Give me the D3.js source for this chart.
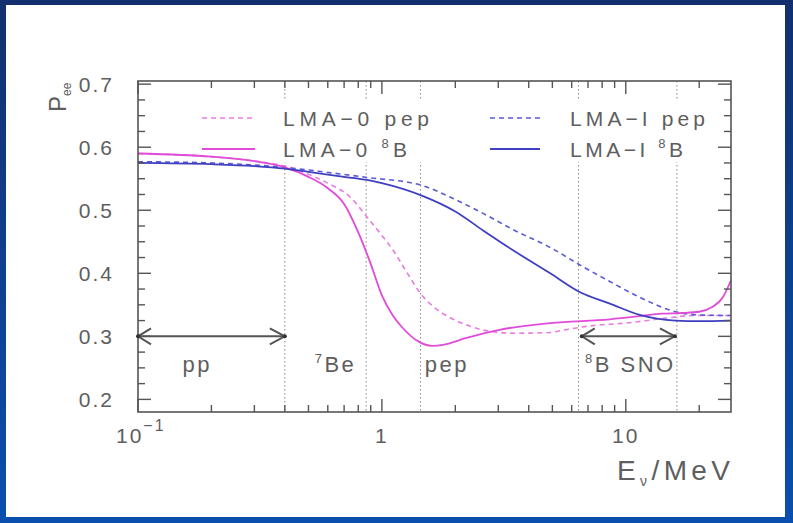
<!DOCTYPE html>
<html>
<head>
<meta charset="utf-8">
<script src="https://cdn.jsdelivr.net/npm/d3@7"></script>
<style>
  body { margin: 0; }
  text { font-family: 'Liberation Sans', Arial, sans-serif; fill: #5e5e5e; }
</style>
</head>
<body>
<div id="chart"></div>
<script>
// survival probability curves
const eLma0Pep = [0.1, 0.2, 0.3, 0.4, 0.5, 0.6, 0.74, 0.87, 1.0, 1.11, 1.25, 1.44, 1.65, 1.9, 2.3, 2.6, 3.5, 4.9, 5.4, 7.3, 10, 14, 19, 27];
const pLma0Pep = [0.590, 0.585, 0.578, 0.570, 0.557, 0.543, 0.521, 0.489, 0.460, 0.437, 0.405, 0.368, 0.345, 0.330, 0.316, 0.310, 0.305, 0.306, 0.309, 0.317, 0.321, 0.328, 0.333, 0.333];

const eLma0B8 = [0.1, 0.2, 0.3, 0.4, 0.5, 0.6, 0.7, 0.8, 0.9, 1.0, 1.1, 1.2, 1.44, 1.6, 1.8, 2.2, 3.0, 4.9, 8.6, 11.4, 14, 17, 20, 22.5, 25, 27];
const pLma0B8 = [0.590, 0.585, 0.578, 0.568, 0.553, 0.535, 0.510, 0.465, 0.415, 0.365, 0.335, 0.316, 0.290, 0.285, 0.287, 0.297, 0.310, 0.321, 0.327, 0.332, 0.336, 0.337, 0.339, 0.346, 0.362, 0.389];

const eLma1Pep = [0.1, 0.2, 0.4, 0.6, 0.87, 1.44, 2.0, 2.6, 3.5, 4.9, 6.5, 8.6, 11.4, 16, 20, 27];
const pLma1Pep = [0.577, 0.575, 0.568, 0.560, 0.552, 0.540, 0.517, 0.495, 0.468, 0.441, 0.413, 0.387, 0.362, 0.339, 0.334, 0.333];

const eLma1B8 = [0.1, 0.2, 0.3, 0.4, 0.5, 0.7, 0.87, 1.0, 1.44, 2.0, 2.6, 3.5, 4.9, 6.5, 8.6, 11.4, 16, 20, 27];
const pLma1B8 = [0.575, 0.573, 0.570, 0.566, 0.561, 0.553, 0.548, 0.543, 0.524, 0.498, 0.468, 0.435, 0.400, 0.370, 0.352, 0.334, 0.325, 0.324, 0.325];

// region boundaries (MeV) and labels
const boundaries = [0.4, 0.862, 1.44, 6.4, 16.2];
const arrowPP = [0.1, 0.4];
const arrowSNO = [6.6, 15.9];
const regionLabels = [
  { sup: '', text: 'pp', e: 0.175, anchor: 'middle' },
  { sup: '7', text: 'Be', e: 0.53, anchor: 'start' },
  { sup: '', text: 'pep', e: 1.5, anchor: 'start' },
  { sup: '8', text: 'B SNO', e: 6.8, anchor: 'start' }
];
const yTicks = [0.2, 0.3, 0.4, 0.5, 0.6, 0.7];
const yMinor = d3.range(0.2, 0.7001, 0.025);

const W = 793, H = 523;
const plot = { left: 138, right: 731, top: 81, bottom: 412 };

const svg = d3.select('#chart').append('svg')
  .attr('width', W).attr('height', H);

// blue slide frame
const grad = svg.append('defs').append('linearGradient')
  .attr('id', 'bg').attr('x1', 0).attr('y1', 0).attr('x2', 0).attr('y2', 1);
grad.append('stop').attr('offset', 0).attr('stop-color', '#132f6e');
grad.append('stop').attr('offset', 1).attr('stop-color', '#0a4fae');
svg.append('rect').attr('width', W).attr('height', H).attr('fill', 'url(#bg)');
svg.append('rect').attr('x', 6).attr('y', 5).attr('width', 779).attr('height', 512).attr('fill', '#fff');

const x = d3.scaleLog().domain([0.1, 27]).range([plot.left, plot.right]);
const y = d3.scaleLinear().domain([0.18, 0.705]).range([plot.bottom, plot.top]);

const axisColor = '#555';

// dotted boundary lines
svg.append('g').selectAll('line').data(boundaries).join('line')
  .attr('x1', d => x(d)).attr('x2', d => x(d))
  .attr('y1', plot.top).attr('y2', plot.bottom)
  .attr('stroke', '#8a8a8a').attr('stroke-width', 1)
  .attr('stroke-dasharray', '1.5,2.5');

// curves
const line = (es, ps) => d3.line()
  .x((d, i) => x(es[i])).y(d => y(d))
  .curve(d3.curveMonotoneX)(ps);

const series = [
  { e: eLma0Pep, p: pLma0Pep, color: '#e77be0', dash: '5,4', w: 1.6 },
  { e: eLma1Pep, p: pLma1Pep, color: '#5a5ad8', dash: '5,4', w: 1.6 },
  { e: eLma0B8, p: pLma0B8, color: '#e04bd8', dash: null, w: 1.8 },
  { e: eLma1B8, p: pLma1B8, color: '#3f3fc2', dash: null, w: 1.8 }
];
svg.append('g').selectAll('path').data(series).join('path')
  .attr('d', s => line(s.e, s.p))
  .attr('fill', 'none')
  .attr('stroke', s => s.color)
  .attr('stroke-width', s => s.w)
  .attr('stroke-dasharray', s => s.dash);

// axes frame with inward ticks
const xMajor = [0.1, 1, 10];
const xMinor = x.ticks().filter(d => !xMajor.includes(d));

const frame = svg.append('g').attr('stroke', axisColor).attr('fill', 'none');
frame.append('rect')
  .attr('x', plot.left).attr('y', plot.top)
  .attr('width', plot.right - plot.left).attr('height', plot.bottom - plot.top)
  .attr('stroke-width', 1.6);

const tick = (g, data, len, horiz) => {
  data.forEach(d => {
    if (horiz) {
      g.append('line').attr('x1', x(d)).attr('x2', x(d)).attr('y1', plot.bottom).attr('y2', plot.bottom - len);
      g.append('line').attr('x1', x(d)).attr('x2', x(d)).attr('y1', plot.top).attr('y2', plot.top + len);
    } else {
      g.append('line').attr('y1', y(d)).attr('y2', y(d)).attr('x1', plot.left).attr('x2', plot.left + len);
      g.append('line').attr('y1', y(d)).attr('y2', y(d)).attr('x1', plot.right).attr('x2', plot.right - len);
    }
  });
};
const tg = frame.append('g').attr('stroke-width', 1.4);
tick(tg, xMajor, 13, true);
tick(tg, xMinor, 7, true);
tick(tg, yTicks, 13, false);
tick(tg, yMinor.filter(d => !yTicks.some(t => Math.abs(t - d) < 1e-6)), 7, false);

// y tick labels
svg.append('g').selectAll('text').data(yTicks).join('text')
  .attr('x', 114).attr('y', d => y(d)).attr('dy', '0.36em')
  .attr('text-anchor', 'end')
  .attr('font-size', 21).attr('letter-spacing', 2)
  .text(d3.format('.1f'));

// x tick labels
const xl = svg.append('g').attr('font-size', 21).attr('letter-spacing', 2);
const t0 = xl.append('text').attr('x', x(0.1) - 22).attr('y', 443);
t0.append('tspan').text('10');
t0.append('tspan').attr('dy', -12).attr('font-size', 16).text('−1');
xl.append('text').attr('x', x(1)).attr('y', 443).attr('text-anchor', 'middle').text('1');
xl.append('text').attr('x', x(10)).attr('y', 443).attr('text-anchor', 'middle').text('10');

// axis titles
const xt = svg.append('text').attr('x', 617).attr('y', 480)
  .attr('font-size', 28).attr('textLength', 113).attr('lengthAdjust', 'spacing');
xt.append('tspan').text('E');
xt.append('tspan').attr('dy', 6).attr('font-size', 14).text('ν');
xt.append('tspan').attr('dy', -6).text('/MeV');

const yt = svg.append('text').attr('transform', 'translate(66,112) rotate(-90)')
  .attr('text-anchor', 'start').attr('font-size', 24);
yt.append('tspan').text('P');
yt.append('tspan').attr('dy', 5).attr('font-size', 12).text('ee');

// region arrows
const arrow = (e0, e1, p) => {
  const g = svg.append('g').attr('stroke', '#555').attr('fill', 'none').attr('stroke-width', 2);
  const x0 = x(e0), x1 = x(e1), yy = y(p);
  g.append('line').attr('x1', x0).attr('x2', x1).attr('y1', yy).attr('y2', yy);
  g.append('path').attr('d', `M${x0 + 13},${yy - 8}L${x0},${yy}L${x0 + 13},${yy + 8}`);
  g.append('path').attr('d', `M${x1 - 15},${yy - 8}L${x1},${yy}L${x1 - 15},${yy + 8}`);
  g.append('circle').attr('cx', x0).attr('cy', yy).attr('r', 2).attr('fill', '#333').attr('stroke', 'none');
  g.append('circle').attr('cx', x1).attr('cy', yy).attr('r', 2).attr('fill', '#333').attr('stroke', 'none');
};
arrow(arrowPP[0], arrowPP[1], 0.3);
arrow(arrowSNO[0], arrowSNO[1], 0.3);

// region labels
regionLabels.forEach(r => {
  const t = svg.append('text').attr('x', x(r.e)).attr('y', 372)
    .attr('text-anchor', r.anchor).attr('font-size', 22).attr('letter-spacing', 2.5);
  if (r.sup) t.append('tspan').attr('dy', -9).attr('font-size', 13).text(r.sup);
  t.append('tspan').attr('dy', r.sup ? 9 : 0).text(r.text);
});

// legend
const legendCols = [
  { x0: 202, x1: 255, tx: 283, rows: [
    { sup: null, label: 'LMA−0 pep', len: 146, s: series[0] },
    { sup: '8', label: 'LMA−0 ', tail: 'B', len: 124, s: series[2] }] },
  { x0: 490, x1: 540, tx: 570, rows: [
    { sup: null, label: 'LMA−I pep', len: 135, s: series[1] },
    { sup: '8', label: 'LMA−I ', tail: 'B', len: 113, s: series[3] }] }
];
const rowY = [118, 149];
legendCols.forEach(c => {
  svg.append('rect').attr('x', c.tx - 4).attr('y', 100)
    .attr('width', d3.max(c.rows, r => r.len) + 8).attr('height', 62).attr('fill', '#fff');
  c.rows.forEach((r, i) => {
    svg.append('line').attr('x1', c.x0).attr('x2', c.x1).attr('y1', rowY[i]).attr('y2', rowY[i])
      .attr('stroke', r.s.color).attr('stroke-width', r.s.w).attr('stroke-dasharray', r.s.dash);
    const t = svg.append('text').attr('x', c.tx).attr('y', rowY[i] + 7.5)
      .attr('font-size', 21).attr('textLength', r.len).attr('lengthAdjust', 'spacing');
    t.append('tspan').text(r.label);
    if (r.sup) {
      t.append('tspan').attr('dy', -9).attr('font-size', 13).text(r.sup);
      t.append('tspan').attr('dy', 9).text(r.tail);
    }
  });
});
</script>
</body>
</html>
